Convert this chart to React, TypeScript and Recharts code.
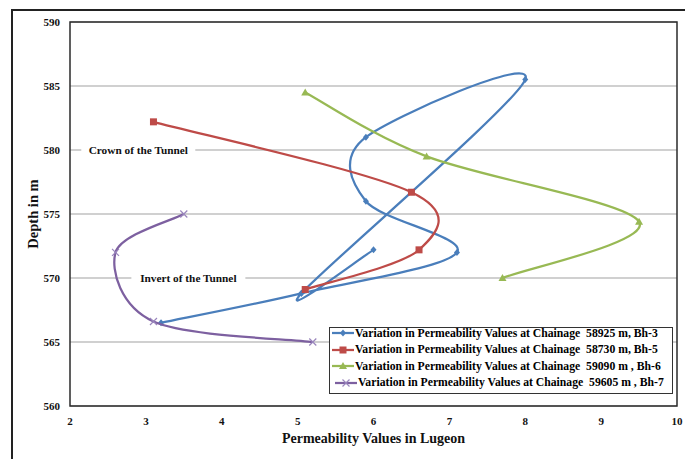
import {
  ScatterChart,
  Scatter,
  XAxis,
  YAxis,
  CartesianGrid,
  ReferenceArea,
  ReferenceDot,
  Legend,
} from 'recharts'

const xTicks = [2, 3, 4, 5, 6, 7, 8, 9, 10]
const yTicks = [560, 565, 570, 575, 580, 585, 590]

// borehole readings, in the order the curves are drawn
const bh3Lugeon = [3.2, 5.05, 7.1, 5.9, 5.9, 8.0, 5.05, 6.0]
const bh3Depth = [566.5, 568.8, 572.0, 576.0, 581.0, 585.5, 568.8, 572.2]
const bh5Lugeon = [3.1, 6.5, 6.6, 5.1]
const bh5Depth = [582.2, 576.7, 572.2, 569.1]
const bh6Lugeon = [5.1, 6.7, 9.5, 7.7]
const bh6Depth = [584.5, 579.5, 574.4, 570.0]
const bh7Lugeon = [3.5, 2.6, 3.1, 5.2]
const bh7Depth = [575.0, 572.0, 566.6, 565.0]

const seriesNames = [
  'Variation in Permeability Values at Chainage  58925 m, Bh-3',
  'Variation in Permeability Values at Chainage  58730 m, Bh-5',
  'Variation in Permeability Values at Chainage  59090 m , Bh-6',
  'Variation in Permeability Values at Chainage  59605 m , Bh-7',
]

const annotations = [
  { x: 2.9, y: 580, text: 'Crown of the Tunnel' },
  { x: 3.56, y: 570, text: 'Invert of the Tunnel' },
]

const FONT = '"Liberation Serif", "Times New Roman", serif'
const BLUE = '#4a7ebb'
const RED = '#be4b48'
const GREEN = '#98b954'
const PURPLE = '#7d60a0'

const toPoints = (xs: number[], ys: number[]) => xs.map((x, i) => ({ x, y: ys[i] }))

// Excel-like smoothed line (cardinal spline through points in data order)
function excelSmooth(context: any) {
  let pts: number[][] = []
  return {
    areaStart() {},
    areaEnd() {},
    lineStart() {
      pts = []
    },
    point(x: number, y: number) {
      pts.push([+x, +y])
    },
    lineEnd() {
      const n = pts.length
      if (!n) return
      context.moveTo(pts[0][0], pts[0][1])
      for (let i = 0; i < n - 1; i++) {
        const p0 = pts[Math.max(i - 1, 0)]
        const p1 = pts[i]
        const p2 = pts[i + 1]
        const p3 = pts[Math.min(i + 2, n - 1)]
        context.bezierCurveTo(
          p1[0] + (p2[0] - p0[0]) / 6,
          p1[1] + (p2[1] - p0[1]) / 6,
          p2[0] - (p3[0] - p1[0]) / 6,
          p2[1] - (p3[1] - p1[1]) / 6,
          p2[0],
          p2[1]
        )
      }
    },
  }
}

function Marker({ kind, cx, cy }: { kind: string; cx: number; cy: number }) {
  if (kind === 'diamond')
    return <path d={`M${cx},${cy - 3.5}L${cx + 3},${cy}L${cx},${cy + 3.5}L${cx - 3},${cy}Z`} fill={BLUE} />
  if (kind === 'square') return <rect x={cx - 3.5} y={cy - 3.5} width={7} height={7} fill={RED} />
  if (kind === 'triangle')
    return <path d={`M${cx},${cy - 4}L${cx + 4},${cy + 3}L${cx - 4},${cy + 3}Z`} fill={GREEN} />
  return (
    <path
      d={`M${cx - 3.5},${cy - 3.5}L${cx + 3.5},${cy + 3.5}M${cx + 3.5},${cy - 3.5}L${cx - 3.5},${cy + 3.5}`}
      stroke="#9a86bd"
      strokeWidth={1.2}
      fill="none"
    />
  )
}

const legendItems = [
  { name: seriesNames[0], color: BLUE, kind: 'diamond' },
  { name: seriesNames[1], color: RED, kind: 'square' },
  { name: seriesNames[2], color: GREEN, kind: 'triangle' },
  { name: seriesNames[3], color: PURPLE, kind: 'x' },
]

function LegendBox() {
  return (
    <div
      style={{
        boxSizing: 'border-box',
        width: 344,
        height: 67,
        border: '1.5px solid #333',
        background: '#fff',
        paddingLeft: 2,
        fontFamily: FONT,
        fontWeight: 'bold',
        fontSize: 11.7,
        color: '#000',
      }}
    >
      <div style={{ marginTop: -3 }}>
        {legendItems.map((item, i) => (
          <div key={item.name} style={{ display: 'flex', alignItems: 'center', height: 16.5, whiteSpace: 'pre' }}>
            <svg width={i === 3 ? 26 : 23} height={10} style={{ flex: 'none' }}>
              <line x1={i === 3 ? 3 : 0} y1={5} x2={i === 3 ? 25 : 22} y2={5} stroke={item.color} strokeWidth={2.25} />
              <Marker kind={item.kind} cx={i === 3 ? 14 : 11} cy={5} />
            </svg>
            <span>{item.name}</span>
          </div>
        ))}
      </div>
    </div>
  )
}

function Annotation(props: any) {
  const { cx, cy, text } = props
  return (
    <g>
      <rect x={cx - 57} y={cy - 6} width={114} height={12} fill="#fff" />
      <text
        x={cx}
        y={cy}
        textAnchor="middle"
        dominantBaseline="central"
        fontFamily={FONT}
        fontWeight="bold"
        fontSize={11.3}
        fill="#111"
      >
        {text}
      </text>
    </g>
  )
}

const tickStyle = { fill: '#111', fontSize: 11, fontWeight: 'bold', fontFamily: FONT }

export default function App() {
  return (
    <div style={{ position: 'relative', width: 685, height: 459, overflow: 'hidden', background: '#fff' }}>
      <style>{'body{margin:0}'}</style>
      <div
        style={{
          position: 'absolute',
          left: 11,
          top: 9,
          width: 720,
          height: 500,
          borderLeft: '2.5px solid #222',
          borderTop: '2.5px solid #222',
        }}
      />
      <ScatterChart width={685} height={459} margin={{ top: 22, right: 8, bottom: 0, left: 0 }}>
        <CartesianGrid vertical={false} stroke="#c0c0c0" strokeWidth={1.5} />
        <XAxis
          type="number"
          dataKey="x"
          domain={[2, 10]}
          ticks={xTicks}
          height={53}
          tick={tickStyle}
          tickLine={false}
          axisLine={false}
          tickMargin={5}
          label={(p: any) => (
            <text
              x={p.viewBox.x + p.viewBox.width / 2}
              y={p.viewBox.y + 32}
              textAnchor="middle"
              dominantBaseline="central"
              fontFamily={FONT}
              fontWeight="bold"
              fontSize={14}
              fill="#111"
            >
              Permeability Values in Lugeon
            </text>
          )}
        />
        <YAxis
          type="number"
          dataKey="y"
          domain={[560, 590]}
          ticks={yTicks}
          width={70}
          tick={tickStyle}
          tickLine={false}
          axisLine={false}
          tickMargin={4}
          label={(p: any) => {
            const x = p.viewBox.x + 33
            const y = p.viewBox.y + p.viewBox.height / 2
            return (
              <text
                x={x}
                y={y}
                transform={`rotate(-90 ${x} ${y})`}
                textAnchor="middle"
                dominantBaseline="central"
                fontFamily={FONT}
                fontWeight="bold"
                fontSize={14.5}
                fill="#111"
              >
                Depth in m
              </text>
            )
          }}
        />
        <ReferenceArea x1={2} x2={10} y1={560} y2={590} fill="none" stroke="#2b2b2b" strokeWidth={1.5} />
        {annotations.map(a => (
          <ReferenceDot
            key={a.text}
            x={a.x}
            y={a.y}
            r={0}
            shape={(p: any) => <Annotation {...p} text={a.text} />}
          />
        ))}
        <Scatter
          name={seriesNames[0]}
          data={toPoints(bh3Lugeon, bh3Depth)}
          fill={BLUE}
          line={{ stroke: BLUE, strokeWidth: 2.25 }}
          lineJointType={excelSmooth as any}
          shape={(p: any) => <Marker kind="diamond" cx={p.cx} cy={p.cy} />}
          isAnimationActive={false}
        />
        <Scatter
          name={seriesNames[1]}
          data={toPoints(bh5Lugeon, bh5Depth)}
          fill={RED}
          line={{ stroke: RED, strokeWidth: 2.25 }}
          lineJointType={excelSmooth as any}
          shape={(p: any) => <Marker kind="square" cx={p.cx} cy={p.cy} />}
          isAnimationActive={false}
        />
        <Scatter
          name={seriesNames[2]}
          data={toPoints(bh6Lugeon, bh6Depth)}
          fill={GREEN}
          line={{ stroke: GREEN, strokeWidth: 2.25 }}
          lineJointType={excelSmooth as any}
          shape={(p: any) => <Marker kind="triangle" cx={p.cx} cy={p.cy} />}
          isAnimationActive={false}
        />
        <Scatter
          name={seriesNames[3]}
          data={toPoints(bh7Lugeon, bh7Depth)}
          fill={PURPLE}
          line={{ stroke: PURPLE, strokeWidth: 2.25 }}
          lineJointType={excelSmooth as any}
          shape={(p: any) => <Marker kind="x" cx={p.cx} cy={p.cy} />}
          isAnimationActive={false}
        />
        <Legend
          layout="horizontal"
          verticalAlign="middle"
          align="center"
          wrapperStyle={{ left: 329, top: 327, width: 344, height: 67 }}
          content={() => <LegendBox />}
        />
      </ScatterChart>
    </div>
  )
}
